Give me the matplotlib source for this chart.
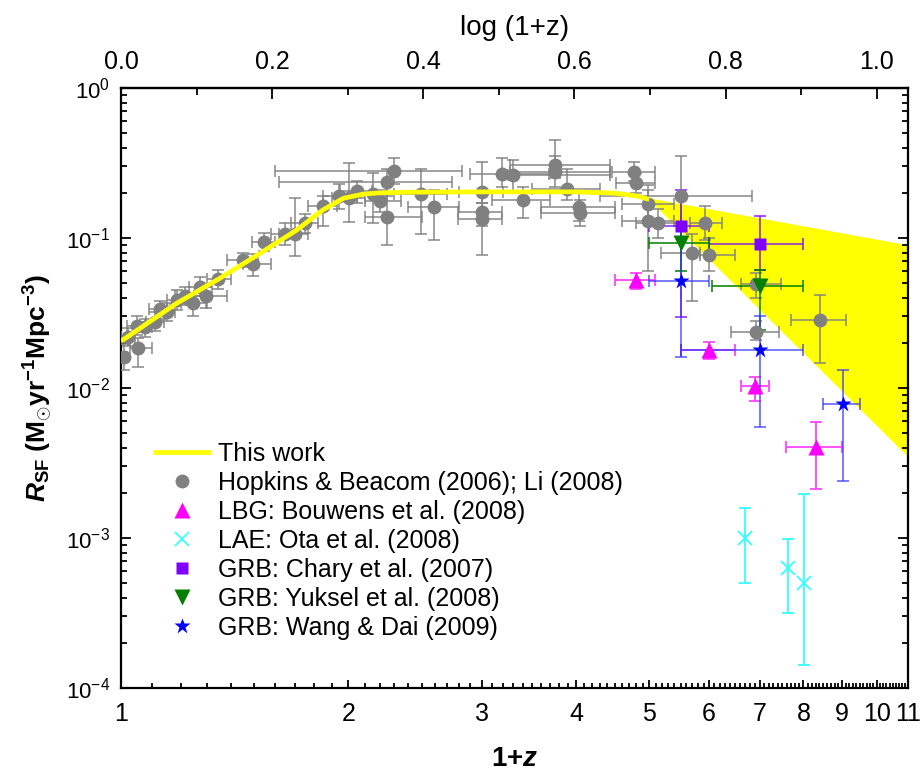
import matplotlib
matplotlib.use('Agg')
import matplotlib.pyplot as plt
import numpy as np
from matplotlib.ticker import FixedLocator, FuncFormatter, LogLocator, MultipleLocator, NullFormatter

plt.rcParams['mathtext.fontset'] = 'custom'
plt.rcParams['mathtext.rm'] = 'Liberation Sans:bold'
plt.rcParams['mathtext.it'] = 'Liberation Sans:italic:bold'
plt.rcParams['mathtext.bf'] = 'Liberation Sans:bold'
plt.rcParams['font.family'] = ['Liberation Sans', 'DejaVu Sans']

NARROW = ['Liberation Sans Narrow', 'Liberation Sans', 'DejaVu Sans']

# ---------------- data ----------------
# "This work" curve (1+z, R_SF)
line_x = [1.0, 1.185, 1.352, 1.528, 1.708, 1.851, 1.969, 2.09, 2.2, 2.4, 3.0, 4.0, 4.5, 4.8, 5.0]
line_y = [0.0205, 0.0367, 0.0539, 0.079, 0.113, 0.154, 0.184, 0.196, 0.200, 0.202, 0.203, 0.203, 0.199, 0.191, 0.181]
# yellow band (high-z extrapolation)
band_x = [5.0, 11.0]
band_hi = [0.185, 0.090]
band_lo = [0.180, 0.00348]

# Hopkins & Beacom (2006); Li (2008): x, y, x_lo, x_hi, y_lo, y_hi
hb_x = [1.009, 1.052, 1.022, 1.049, 1.076, 1.109, 1.126, 1.149, 1.185, 1.215, 1.247, 1.272, 1.296, 1.345,
        1.449, 1.497, 1.546, 1.648, 1.699, 1.752, 1.849, 1.944, 2.005, 2.054, 2.153, 2.202, 2.247, 2.298,
        2.247, 2.494, 2.598, 3.001, 3.001, 3.001, 3.197, 3.298, 3.401, 3.756, 3.756, 3.896, 4.042, 4.05,
        4.773, 4.803, 4.986, 4.986, 5.14, 5.508, 5.93, 5.70, 6.0, 6.918, 6.918, 8.41]
hb_y = [0.0160, 0.0186, 0.0218, 0.0259, 0.0256, 0.0277, 0.0335, 0.0322, 0.0386, 0.0408, 0.0367, 0.0474, 0.0410, 0.0530,
        0.0714, 0.0668, 0.0945, 0.106, 0.106, 0.125, 0.163, 0.190, 0.184, 0.207, 0.198, 0.177, 0.235, 0.281,
        0.137, 0.197, 0.162, 0.204, 0.150, 0.133, 0.267, 0.263, 0.179, 0.307, 0.277, 0.211, 0.162, 0.146,
        0.277, 0.232, 0.169, 0.130, 0.125, 0.191, 0.126, 0.080, 0.077, 0.049, 0.0237, 0.0284]
hb_xlo = [1.00, 1.028, 1.00, 1.02, 1.05, 1.08, 1.09, 1.12, 1.15, 1.18, 1.20, 1.23, 1.25, 1.30,
          1.38, 1.45, 1.49, 1.58, 1.62, 1.68, 1.77, 1.85, 1.90, 1.95, 2.05, 2.10, 1.62, 1.60,
          2.10, 2.30, 2.40, 2.80, 2.79, 2.79, 2.90, 3.25, 3.10, 3.27, 3.27, 3.50, 3.60, 3.60,
          4.46, 4.52, 4.60, 4.60, 4.80, 4.30, 5.66, 5.19, 5.84, 6.62, 6.42, 7.70]
hb_xhi = [1.02, 1.10, 1.045, 1.08, 1.10, 1.14, 1.16, 1.18, 1.22, 1.25, 1.30, 1.32, 1.38, 1.40,
          1.52, 1.58, 1.60, 1.72, 1.77, 1.82, 1.93, 2.05, 2.10, 2.15, 2.25, 2.35, 2.74, 2.83,
          2.50, 2.70, 2.80, 3.20, 3.19, 3.19, 3.68, 4.44, 3.70, 4.44, 4.44, 4.30, 4.50, 4.50,
          5.09, 5.09, 5.40, 5.40, 5.50, 6.83, 6.24, 5.84, 6.50, 7.46, 7.42, 9.10]
hb_ylo = [0.0132, 0.0139, 0.019, 0.0225, 0.022, 0.024, 0.029, 0.028, 0.033, 0.036, 0.030, 0.041, 0.034, 0.046,
          0.064, 0.056, 0.082, 0.090, 0.076, 0.108, 0.120, 0.155, 0.128, 0.170, 0.125, 0.150, 0.190, 0.230,
          0.090, 0.106, 0.097, 0.170, 0.120, 0.077, 0.220, 0.200, 0.136, 0.250, 0.220, 0.180, 0.130, 0.120,
          0.240, 0.200, 0.130, 0.060, 0.100, 0.126, 0.097, 0.038, 0.060, 0.040, 0.021, 0.0147]
hb_yhi = [0.0195, 0.0215, 0.025, 0.030, 0.029, 0.032, 0.038, 0.037, 0.045, 0.047, 0.043, 0.055, 0.047, 0.061,
          0.080, 0.078, 0.108, 0.125, 0.185, 0.145, 0.190, 0.230, 0.315, 0.240, 0.270, 0.210, 0.290, 0.340,
          0.200, 0.287, 0.209, 0.320, 0.200, 0.170, 0.340, 0.330, 0.220, 0.450, 0.350, 0.290, 0.200, 0.180,
          0.320, 0.270, 0.210, 0.226, 0.155, 0.350, 0.163, 0.106, 0.100, 0.058, 0.028, 0.042]

# LBG: Bouwens et al. (2008)
lbg_x = [4.80, 6.00, 6.91, 8.31]
lbg_y = [0.0525, 0.0179, 0.0103, 0.00406]
lbg_xlo = [4.50, 5.51, 6.61, 7.59]
lbg_xhi = [5.09, 6.50, 7.20, 9.00]
lbg_ylo = [0.0458, 0.0155, 0.0082, 0.00211]
lbg_yhi = [0.0586, 0.0202, 0.0118, 0.0059]

# LAE: Ota et al. (2008)
lae_x = [6.70, 7.62, 8.01]
lae_y = [0.000996, 0.000628, 0.000499]
lae_ylo = [0.00050, 0.000316, 0.000143]
lae_yhi = [0.00158, 0.00099, 0.00197]

# GRB: Chary et al. (2007)
ch_x = [5.51, 7.01]
ch_y = [0.120, 0.0908]
ch_xlo = [5.0, 6.0]
ch_xhi = [6.0, 8.0]
ch_ylo = [0.0298, 0.061]
ch_yhi = [0.209, 0.140]

# GRB: Yuksel et al. (2008)
yu_x = [5.51, 7.01]
yu_y = [0.092, 0.0479]
yu_xlo = [5.0, 6.05]
yu_xhi = [6.0, 8.0]
yu_ylo = [0.060, 0.0245]
yu_yhi = [0.120, 0.061]

# GRB: Wang & Dai (2009)
wd_x = [5.51, 7.01, 9.02]
wd_y = [0.0517, 0.0179, 0.00782]
wd_xlo = [5.0, 5.51, 8.5]
wd_xhi = [6.0, 8.0, 9.5]
wd_ylo = [0.0162, 0.0055, 0.00240]
wd_yhi = [0.120, 0.0302, 0.0132]

xticks_major = [1, 2, 3, 4, 5, 6, 7, 8, 9, 10, 11]
xticklabels = ['1', '2', '3', '4', '5', '6', '7', '8', '9', '10', '11']
top_ticks = [0.0, 0.2, 0.4, 0.6, 0.8, 1.0]

# ---------------- figure ----------------
fig = plt.figure(figsize=(9.21, 7.74), dpi=100)
ax = fig.add_axes([121 / 921, 1 - 688 / 774, 787 / 921, 600 / 774])
ax.set_xscale('log')
ax.set_yscale('log')


def errs(v, lo, hi):
    v = np.asarray(v); return [v - np.asarray(lo), np.asarray(hi) - v]


ax.fill_between(band_x, band_lo, band_hi, color='#FFFF00', lw=0, zorder=1)

ekw = dict(fmt='none', elinewidth=1.3, capsize=4, capthick=1.3)
ax.errorbar(hb_x, hb_y, xerr=errs(hb_x, hb_xlo, hb_xhi), yerr=errs(hb_y, hb_ylo, hb_yhi),
            ecolor='#808080', alpha=0.8, zorder=3, **ekw)
ax.errorbar(lbg_x, lbg_y, xerr=errs(lbg_x, lbg_xlo, lbg_xhi), yerr=errs(lbg_y, lbg_ylo, lbg_yhi),
            ecolor='#FF44FF', zorder=4, **ekw)
ax.errorbar(lae_x, lae_y, yerr=errs(lae_y, lae_ylo, lae_yhi), ecolor='#33FFFF', zorder=4, **ekw)
ax.errorbar(ch_x, ch_y, xerr=errs(ch_x, ch_xlo, ch_xhi), yerr=errs(ch_y, ch_ylo, ch_yhi),
            ecolor='#8000FF', alpha=0.75, zorder=4, **ekw)
ax.errorbar(yu_x, yu_y, xerr=errs(yu_x, yu_xlo, yu_xhi), yerr=errs(yu_y, yu_ylo, yu_yhi),
            ecolor='#008000', alpha=0.85, zorder=4, **ekw)
ax.errorbar(wd_x, wd_y, xerr=errs(wd_x, wd_xlo, wd_xhi), yerr=errs(wd_y, wd_ylo, wd_yhi),
            ecolor='#3333FF', alpha=0.7, zorder=4, **ekw)

ax.plot(line_x, line_y, color='#FFFF00', lw=3.4, zorder=7, label='This work', solid_capstyle='butt')
ax.plot(hb_x, hb_y, 'o', color='#808080', ms=10, mec='none', zorder=5,
        label='Hopkins & Beacom (2006); Li (2008)')
ax.plot(lbg_x, lbg_y, '^', color='#FF00FF', ms=11, mec='none', zorder=6, label='LBG: Bouwens et al. (2008)')
ax.plot(lae_x, lae_y, 'x', color='#33FFFF', ms=10, mew=1.3, zorder=6, label='LAE: Ota et al. (2008)')
ax.plot(ch_x, ch_y, 's', color='#8000FF', ms=9, mec='none', zorder=6, label='GRB: Chary et al. (2007)')
ax.plot(yu_x, yu_y, 'v', color='#007F00', ms=11, mec='none', zorder=6, label='GRB: Yuksel et al. (2008)')
ax.plot(wd_x, wd_y, '*', color='#0000FF', ms=12, mec='none', zorder=6, label='GRB: Wang & Dai (2009)')

ax.set_xlim(1, 11)
ax.set_ylim(1e-4, 1)

# ticks
ax.xaxis.set_major_locator(FixedLocator(xticks_major))
ax.xaxis.set_major_formatter(FuncFormatter(lambda v, p: xticklabels[xticks_major.index(int(round(v)))]
                                           if int(round(v)) in xticks_major else ''))
ax.xaxis.set_minor_locator(FixedLocator([v / 10 for v in range(11, 110) if v % 10]))
ax.xaxis.set_minor_formatter(NullFormatter())
ax.yaxis.set_major_locator(LogLocator(base=10, numticks=10))
ax.yaxis.set_minor_locator(LogLocator(base=10, subs=np.arange(2, 10), numticks=20))
ax.yaxis.set_major_formatter(FuncFormatter(lambda v, p: r'$\mathregular{10^{%d}}$' % int(round(np.log10(v)))))
ax.yaxis.set_minor_formatter(NullFormatter())

ax.tick_params(which='both', direction='in', right=True, top=False, width=1.3)
ax.tick_params(axis='x', which='major', length=6, pad=10)
ax.tick_params(axis='x', which='minor', length=3.5)
ax.tick_params(axis='y', which='major', length=7, pad=8)
ax.tick_params(axis='y', which='minor', length=4)
for lab in ax.get_xticklabels():
    lab.set_family(NARROW)
    lab.set_fontsize(18)
for lab in ax.get_yticklabels():
    lab.set_fontsize(16)
for s in ax.spines.values():
    s.set_linewidth(1.6)

sec = ax.secondary_xaxis('top', functions=(np.log10, lambda v: 10 ** v))
sec.xaxis.set_major_locator(FixedLocator(top_ticks))
sec.xaxis.set_minor_locator(MultipleLocator(0.1))
sec.xaxis.set_major_formatter(FuncFormatter(lambda v, p: '%.1f' % v))
sec.xaxis.set_minor_formatter(NullFormatter())
sec.tick_params(which='both', direction='in', width=1.3)
sec.tick_params(which='major', length=8, pad=10)
sec.tick_params(which='minor', length=5)
for lab in sec.get_xticklabels():
    lab.set_family(NARROW)
    lab.set_fontsize(18)
sec.set_xlabel('log (1+z)', family=NARROW, fontsize=20, labelpad=11)
sec.spines['top'].set_linewidth(1.6)

fig.text(515 / 921, 1 - 759 / 774, r'1+$\mathit{z}$', fontsize=20, fontweight='bold', ha='center', va='center')
ax.set_ylabel(r'$\mathit{R}_{\mathrm{SF}}$ $\mathrm{(M_{\odot}yr^{-1}Mpc^{-3})}$', fontsize=19, labelpad=8)

leg = ax.legend(loc='upper left', bbox_to_anchor=(153 / 921, 1 - 442 / 774), bbox_transform=fig.transFigure,
                frameon=False, fontsize=18, handlelength=2.3, handletextpad=0.3, labelspacing=0.2,
                borderpad=0, borderaxespad=0)

fig.savefig('out.png', dpi=100)
